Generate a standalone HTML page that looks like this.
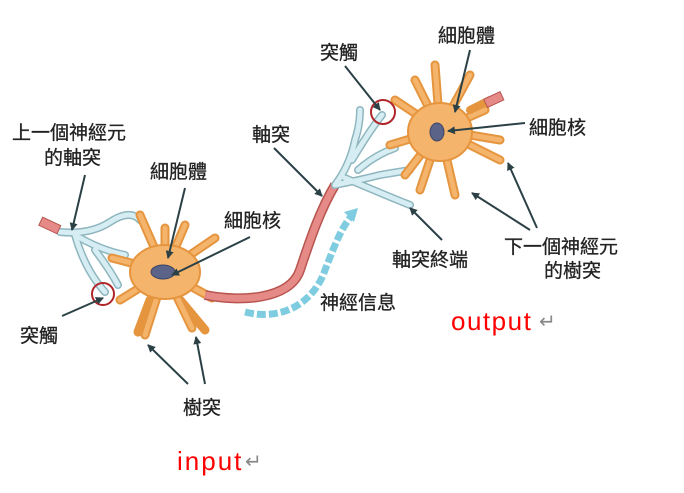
<!DOCTYPE html>
<html><head><meta charset="utf-8"><style>
body{margin:0;background:#fff;}
svg{display:block;}
text{font-family:"Liberation Sans","Noto Sans CJK TC",sans-serif;fill:#222;}
</style></head><body>
<svg width="684" height="493" viewBox="0 0 684 493" xmlns="http://www.w3.org/2000/svg">
<defs>
<marker id="ah" markerWidth="8" markerHeight="8" refX="7" refY="4" orient="auto" markerUnits="userSpaceOnUse">
<path d="M0,0 L8,4 L0,8 z" fill="#2b4146"/></marker>
</defs>
<!-- first neuron axon terminal (blue) -->
<g stroke="#8fb6bf" stroke-width="8" fill="none" stroke-linecap="round">
<path d="M60,232 Q90,235 110,222 T140,220"/>
<path d="M75,235 Q100,250 125,255"/>
<path d="M75,235 Q85,270 105,292"/>
<path d="M95,250 Q110,270 118,285"/>
</g>
<g stroke="#d6eef3" stroke-width="5" fill="none" stroke-linecap="round">
<path d="M60,232 Q90,235 110,222 T140,220"/>
<path d="M75,235 Q100,250 125,255"/>
<path d="M75,235 Q85,270 105,292"/>
<path d="M95,250 Q110,270 118,285"/>
</g>
<rect x="40" y="221" width="20" height="9" fill="#e58a86" stroke="#b85550" transform="rotate(25 50 225)"/>
<!-- neuron 1 -->
<g stroke="#e6953f" stroke-width="9" fill="none" stroke-linecap="round">
<path d="M165,272 L112,258"/><path d="M165,272 L140,215"/><path d="M165,272 L165,228"/>
<path d="M165,272 L215,238"/><path d="M165,272 L145,335"/><path d="M165,272 L192,328"/>
<path d="M165,272 L120,300"/><path d="M165,272 L212,298"/><path d="M165,272 L185,225"/>
<path d="M150,300 L138,332"/><path d="M180,300 L205,330"/>
</g>
<g stroke="#f4b46c" stroke-width="5" fill="none" stroke-linecap="round">
<path d="M165,272 L112,258"/><path d="M165,272 L140,215"/><path d="M165,272 L165,228"/>
<path d="M165,272 L215,238"/><path d="M165,272 L145,335"/><path d="M165,272 L192,328"/>
<path d="M165,272 L120,300"/><path d="M165,272 L212,298"/><path d="M165,272 L185,225"/>
</g>
<ellipse cx="165" cy="272" rx="35" ry="27" fill="#f4b46c" stroke="#e6953f" stroke-width="2"/>
<ellipse cx="163" cy="272" rx="12" ry="7" fill="#5b6488" stroke="#3e4566"/>
<!-- axon -->
<path d="M205,295 C240,302 290,300 300,270 C310,240 320,210 335,185" stroke="#b85550" stroke-width="10" fill="none"/>
<path d="M205,295 C240,302 290,300 300,270 C310,240 320,210 335,185" stroke="#e58a86" stroke-width="7" fill="none"/>
<!-- signal arrow -->
<path d="M245,312 C285,322 315,300 325,270 C335,245 340,230 352,215" stroke="#7fcce0" stroke-width="7" fill="none" stroke-dasharray="9 3"/>
<path d="M344,212 L358,208 L354,222 z" fill="#7fcce0"/>
<!-- neuron 2 terminal -->
<g stroke="#8fb6bf" stroke-width="8" fill="none" stroke-linecap="round">
<path d="M335,185 Q350,165 355,140 Q360,125 360,110"/>
<path d="M352,160 Q370,130 382,115"/>
<path d="M335,185 Q360,180 380,175 L410,170"/>
<path d="M345,178 Q385,195 410,205"/>
<path d="M358,170 Q375,155 395,148"/>
</g>
<g stroke="#d6eef3" stroke-width="5" fill="none" stroke-linecap="round">
<path d="M335,185 Q350,165 355,140 Q360,125 360,110"/>
<path d="M352,160 Q370,130 382,115"/>
<path d="M335,185 Q360,180 380,175 L410,170"/>
<path d="M345,178 Q385,195 410,205"/>
<path d="M358,170 Q375,155 395,148"/>
</g>
<!-- neuron 2 -->
<g stroke="#e6953f" stroke-width="9" fill="none" stroke-linecap="round">
<path d="M440,130 L435,65"/><path d="M440,130 L415,80"/><path d="M440,130 L395,100"/>
<path d="M440,130 L390,145"/><path d="M440,130 L405,175"/><path d="M440,130 L455,195"/>
<path d="M440,130 L500,160"/><path d="M440,130 L500,140"/><path d="M440,130 L470,75"/>
<path d="M440,130 L485,110"/><path d="M440,130 L420,190"/>
</g>
<g stroke="#f4b46c" stroke-width="5" fill="none" stroke-linecap="round">
<path d="M440,130 L435,65"/><path d="M440,130 L415,80"/><path d="M440,130 L395,100"/>
<path d="M440,130 L390,145"/><path d="M440,130 L405,175"/><path d="M440,130 L455,195"/>
<path d="M440,130 L500,160"/><path d="M440,130 L500,140"/><path d="M440,130 L470,75"/>
<path d="M440,130 L485,110"/><path d="M440,130 L420,190"/>
</g>
<ellipse cx="440" cy="132" rx="32" ry="29" fill="#f4b46c" stroke="#e6953f" stroke-width="2"/>
<ellipse cx="437" cy="132" rx="7" ry="9" fill="#5b6488" stroke="#3e4566"/>
<path d="M470,110 L490,100" stroke="#e6953f" stroke-width="8" stroke-linecap="round"/>
<rect x="485" y="95" width="18" height="9" fill="#e58a86" stroke="#b85550" transform="rotate(-25 494 100)"/>
<!-- circles -->
<circle cx="103" cy="294" r="11" fill="none" stroke="#b0262a" stroke-width="2"/>
<circle cx="383" cy="112" r="12" fill="none" stroke="#b0262a" stroke-width="2"/>
<!-- arrows -->
<g stroke="#2b4146" stroke-width="2" marker-end="url(#ah)">
<line x1="85" y1="175" x2="72" y2="230"/>
<line x1="185" y1="188" x2="168" y2="258"/>
<line x1="250" y1="237" x2="172" y2="275"/>
<line x1="62" y1="316" x2="103" y2="298"/>
<line x1="188" y1="384" x2="148" y2="345"/>
<line x1="205" y1="384" x2="196" y2="337"/>
<line x1="274" y1="148" x2="322" y2="196"/>
<line x1="345" y1="66" x2="380" y2="110"/>
<line x1="470" y1="50" x2="455" y2="112"/>
<line x1="525" y1="123" x2="448" y2="131"/>
<line x1="442" y1="240" x2="410" y2="208"/>
<line x1="530" y1="230" x2="472" y2="193"/>
<line x1="537" y1="228" x2="508" y2="163"/>
</g>
<!-- labels -->
<g font-size="19" style="stroke:#222;stroke-width:0.3">
<text x="12" y="139">上一個神經元</text>
<text x="44" y="164">的軸突</text>
<text x="150" y="178">細胞體</text>
<text x="224" y="227">細胞核</text>
<text x="20" y="342">突觸</text>
<text x="183" y="414">樹突</text>
<text x="252" y="141">軸突</text>
<text x="320" y="309">神經信息</text>
<text x="320" y="59">突觸</text>
<text x="438" y="42">細胞體</text>
<text x="529" y="134">細胞核</text>
<text x="392" y="266">軸突終端</text>
<text x="504" y="253">下一個神經元</text>
<text x="544" y="277">的樹突</text>
</g>
<text x="451" y="330" font-size="26" letter-spacing="1.5" style="fill:#f00">output</text>
<text x="539" y="328" font-size="20" style="fill:#888">↵</text>
<text x="177" y="470" font-size="26" letter-spacing="2" style="fill:#f00">input</text>
<text x="245" y="468" font-size="20" style="fill:#888">↵</text>
</svg>
</body></html>
